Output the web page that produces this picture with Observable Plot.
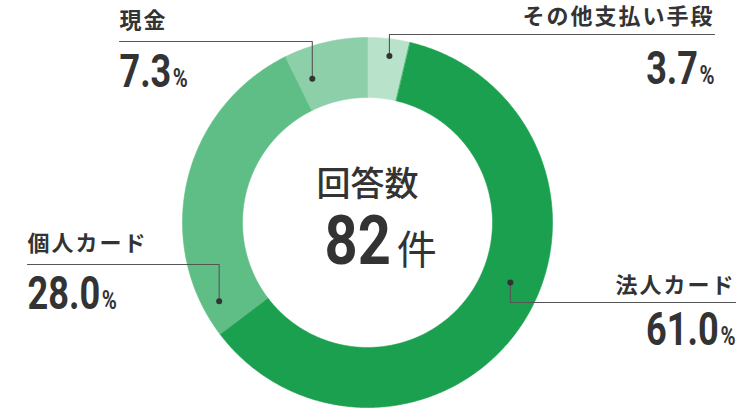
<!DOCTYPE html>
<html><head><meta charset="utf-8">
<script src="https://cdn.jsdelivr.net/npm/d3@7"></script>
<script src="https://cdn.jsdelivr.net/npm/@observablehq/plot@0.6"></script>
<style>
html,body{margin:0;padding:0;background:#fff;}
#chart svg{display:block;}
</style>
</head><body>
<div id="chart"></div>
<script>
// ---- data ----
const categories = ["その他支払い手段", "法人カード", "個人カード", "現金"];
const values = [3.7, 61.0, 28.0, 7.3];
const centerTitle = "回答数";
const responses = 82;
const responsesUnit = "件";

// ---- styles ----
const palette = ["#b8e2ca", "#1aa04e", "#5fbe86", "#8dcfa8"];
const textColor = "#333333";
const lineColor = "#555555";
const numFont = "'Liberation Sans Narrow', 'Roboto', 'DejaVu Sans Condensed', sans-serif";
const jpFont = "'Noto Sans CJK JP', 'Noto Sans', sans-serif";

// ---- layout (pixels) ----
const W = 750, H = 413;
const cx = 367, cy = 222, R = 185, r0 = 125;
const layout = [
  {dotA: 7.5,   dotR: 168, lineY: 34,  endX: 714, anchor: "end",   labelY: 23,  numY: 83},
  {dotA: 112.8, dotR: 155, lineY: 302, endX: 735, anchor: "end",   labelY: 292, numY: 344},
  {dotA: 242.0, dotR: 168, lineY: 264, endX: 27,  anchor: "start", labelY: 250, numY: 308},
  {dotA: 339.0, dotR: 154, lineY: 41,  endX: 119, anchor: "start", labelY: 27,  numY: 86}
];

const toXY = (aRad, rad) => [cx + rad * Math.sin(aRad), cy - rad * Math.cos(aRad)];

const slicePts = [];
let acc = 0;
const totalV = d3.sum(values);
categories.forEach((c, i) => {
  const a0 = acc / totalV * 2 * Math.PI;
  const a1 = (acc + values[i]) / totalV * 2 * Math.PI;
  acc += values[i];
  const n = Math.max(4, Math.ceil((a1 - a0) / (Math.PI / 360)));
  for (let k = 0; k <= n; k++) {
    const [x, y] = toXY(a0 + (a1 - a0) * k / n, R);
    slicePts.push({cat: c, x, y});
  }
  for (let k = n; k >= 0; k--) {
    const [x, y] = toXY(a0 + (a1 - a0) * k / n, r0);
    slicePts.push({cat: c, x, y});
  }
});

const dots = [], leaders = [], labels = [], nums = [];
categories.forEach((c, i) => {
  const L = layout[i];
  const [dx, dy] = toXY(L.dotA * Math.PI / 180, L.dotR);
  dots.push({cat: c, x: dx, y: dy});
  leaders.push({cat: c, x: dx, y: dy});
  leaders.push({cat: c, x: dx, y: L.lineY});
  leaders.push({cat: c, x: L.endX, y: L.lineY});
  labels.push({text: c, x: L.endX, y: L.labelY, anchor: L.anchor});
  nums.push({text: d3.format(".1f")(values[i]), x: L.endX, y: L.numY, anchor: L.anchor});
});
const isStart = d => d.anchor === "start";
const isEnd = d => d.anchor === "end";

const labelOpts = {x: "x", y: "y", text: "text", lineAnchor: "bottom", fontSize: 22, fontWeight: 700, fontFamily: jpFont, fill: textColor};
const numOpts = {x: "x", y: "y", text: "text", lineAnchor: "bottom", fontSize: 46, fontWeight: 700, fontFamily: numFont, fill: textColor};

const plot = Plot.plot({
  width: W, height: H,
  margin: 0,
  style: {background: "#fff", overflow: "visible"},
  x: {domain: [0, W], range: [0, W], axis: null},
  y: {domain: [0, H], range: [0, H], axis: null},
  color: {domain: categories, range: palette},
  marks: [
    Plot.line(slicePts, {x: "x", y: "y", z: "cat", fill: "cat", stroke: "cat", strokeWidth: 0.6, curve: "linear-closed"}),
    Plot.line(leaders, {x: "x", y: "y", z: "cat", stroke: lineColor, strokeWidth: 1.1}),
    Plot.dot(dots, {x: "x", y: "y", r: 3, fill: textColor, stroke: "none"}),
    Plot.text(labels.filter(isStart), {...labelOpts, textAnchor: "start"}),
    Plot.text(labels.filter(isEnd), {...labelOpts, textAnchor: "end"}),
    Plot.text(nums.filter(isStart), {...numOpts, textAnchor: "start"}),
    Plot.text(nums.filter(isEnd), {...numOpts, textAnchor: "end"}),
    Plot.text([centerTitle], {x: cx, y: 195, text: d => d, textAnchor: "middle", lineAnchor: "bottom", fontSize: 34, fontWeight: 500, fontFamily: jpFont, fill: textColor}),
    Plot.text([String(responses)], {x: 324, y: 263, text: d => d, textAnchor: "start", lineAnchor: "bottom", fontSize: 68, fontWeight: 700, fontFamily: numFont, fill: textColor})
  ]
});

document.getElementById("chart").appendChild(plot);

const svg = d3.select(plot);
const g = svg.selectAll('g[aria-label="text"]').nodes();
const [gLabS, gLabE, gNumS, gNumE, gTitle, gCount] = g;

d3.selectAll([gLabS, gLabE]).selectAll("text").style("letter-spacing", "2px");

function condense(textEl, factor) {
  const len = textEl.getComputedTextLength();
  textEl.setAttribute("textLength", (len * factor).toFixed(1));
  textEl.setAttribute("lengthAdjust", "spacingAndGlyphs");
}

d3.selectAll([gNumS, gNumE]).selectAll("text").each(function () {
  d3.select(this).append("tspan").attr("font-size", 26).attr("dx", 2).text("%");
  condense(this, 0.8);
});
d3.select(gCount).selectAll("text").each(function () {
  condense(this, 0.85);
  const t = d3.select(this);
  const bb = this.getBBox();
  d3.select(this.parentNode).append("text")
    .attr("transform", t.attr("transform"))
    .attr("x", (+(t.attr("x") || 0)) + bb.width + 6)
    .attr("y", t.attr("y"))
    .attr("dy", t.attr("dy"))
    .attr("font-size", 40)
    .attr("font-weight", 400)
    .attr("font-family", jpFont)
    .attr("fill", textColor)
    .text(responsesUnit);
});
</script>
</body></html>
